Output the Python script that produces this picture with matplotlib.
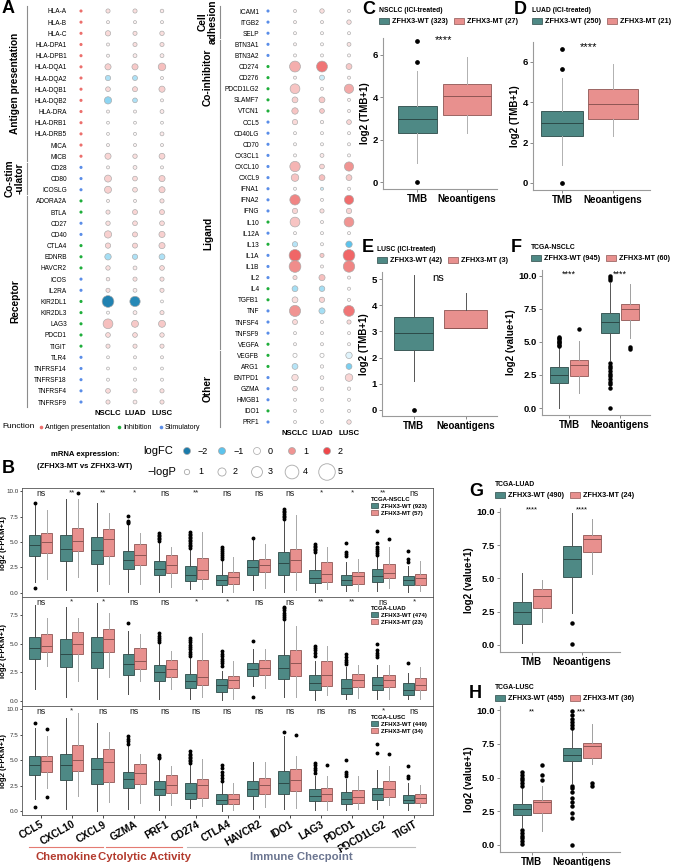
import numpy as np
import matplotlib
matplotlib.use("Agg")
import matplotlib.pyplot as plt
import matplotlib.transforms as mtransforms
from matplotlib.colors import LinearSegmentedColormap, Normalize
from matplotlib.patches import Patch
from matplotlib.lines import Line2D

plt.rcParams['font.family'] = ['Liberation Sans', 'DejaVu Sans']

# ---------------- panel A : dot plot data ----------------
left_genes = ['HLA-A', 'HLA-B', 'HLA-C', 'HLA-DPA1', 'HLA-DPB1', 'HLA-DQA1', 'HLA-DQA2',
              'HLA-DQB1', 'HLA-DQB2', 'HLA-DRA', 'HLA-DRB1', 'HLA-DRB5', 'MICA', 'MICB',
              'CD28', 'CD80', 'ICOSLG',
              'ADORA2A', 'BTLA', 'CD27', 'CD40', 'CTLA4', 'EDNRB', 'HAVCR2', 'ICOS', 'IL2RA',
              'KIR2DL1', 'KIR2DL3', 'LAG3', 'PDCD1', 'TIGIT', 'TLR4', 'TNFRSF14', 'TNFRSF18',
              'TNFRSF4', 'TNFRSF9']
left_func = list('AAAAAAAAAAAAAA' + 'SSS' + 'IISSIIISSIIIIISSSSS')
left_groups = [('Antigen presentation', 0, 13), ('Co-stim\n-ulator', 14, 16), ('Receptor', 17, 35)]

right_genes = ['ICAM1', 'ITGB2', 'SELP', 'BTN3A1', 'BTN3A2', 'CD274', 'CD276', 'PDCD1LG2',
               'SLAMF7', 'VTCN1', 'CCL5', 'CD40LG', 'CD70', 'CX3CL1', 'CXCL10', 'CXCL9',
               'IFNA1', 'IFNA2', 'IFNG', 'IL10', 'IL12A', 'IL13', 'IL1A', 'IL1B', 'IL2', 'IL4',
               'TGFB1', 'TNF', 'TNFSF4', 'TNFSF9', 'VEGFA', 'VEGFB', 'ARG1', 'ENTPD1', 'GZMA',
               'HMGB1', 'IDO1', 'PRF1']
right_func = list('SSSSS' + 'IIIII' + 'SSSSSSSSS' + 'ISISSSIISSSIIISSSIS')
right_groups = [('Cell\nadhesion', 0, 2), ('Co-inhibitor', 3, 9), ('Ligand', 10, 30), ('Other', 31, 37)]

cohorts = ['NSCLC', 'LUAD', 'LUSC']

left_fc_nsclc = [0.3, 0.1, 0.35, 0.1, 0.1, 0.45, -0.5, 0.35, -0.7, 0.1, 0.05, 0.05, 0.1, 0.4,
                 0.1, 0.45, 0.45, 0.1, 0.3, 0.3, 0.45, 0.4, -0.55, 0.3, 0.2, 0.3, -1.9, 0.05,
                 0.6, 0.35, 0.3, 0.05, 0.05, 0.05, 0.35, 0.3]
left_p_nsclc = [0.6, 0.2, 1.0, 0.2, 0.2, 1.3, 1.0, 0.8, 1.7, 0.2, 0.15, 0.15, 0.2, 1.3,
                0.2, 1.6, 1.6, 0.2, 0.6, 0.7, 1.7, 1.0, 1.4, 0.7, 0.4, 0.6, 3.3, 0.2,
                2.6, 0.8, 0.6, 0.15, 0.15, 0.2, 0.8, 0.6]
left_fc_luad = [0.3, 0.1, 0.3, 0.3, 0.2, 0.5, -0.5, 0.4, -0.5, 0.1, 0.05, 0.05, 0.1, 0.3,
                0.2, 0.35, 0.3, 0.1, 0.4, 0.35, 0.4, 0.4, -0.5, 0.2, 0.3, 0.2, -1.8, 0.2,
                0.5, 0.35, 0.3, 0.1, 0.05, 0.05, 0.3, 0.2]
left_p_luad = [0.6, 0.2, 0.6, 0.6, 0.5, 1.3, 0.9, 0.9, 0.8, 0.2, 0.15, 0.2, 0.2, 0.7,
               0.5, 0.8, 0.8, 0.2, 0.9, 0.8, 0.9, 0.9, 1.0, 0.5, 0.6, 0.5, 2.8, 0.5,
               1.6, 0.8, 0.6, 0.2, 0.15, 0.2, 0.6, 0.5]
left_fc_lusc = [0.2, 0.1, 0.3, 0.3, 0.2, 0.6, 0.1, 0.45, 0.1, 0.2, 0.05, 0.2, 0.1, 0.4,
                0.1, 0.45, 0.45, 0.3, 0.4, 0.35, 0.45, 0.45, -0.5, 0.35, 0.3, 0.3, 0.05, 0.3,
                0.5, 0.3, 0.3, 0.1, 0.05, 0.05, 0.3, 0.3]
left_p_lusc = [0.4, 0.2, 0.7, 0.6, 0.5, 1.8, 0.2, 1.3, 0.2, 0.5, 0.15, 0.5, 0.2, 1.2,
               0.2, 1.3, 1.3, 0.6, 0.9, 0.8, 1.3, 1.3, 1.2, 0.8, 0.6, 0.6, 0.15, 0.6,
               1.6, 0.7, 0.6, 0.2, 0.15, 0.2, 0.6, 0.6]

right_fc_nsclc = [0.1, 0.1, 0.05, 0.1, 0.05, 0.75, 0.1, 0.55, 0.45, 0.55, 0.35, 0.05, 0.05, 0.05,
                  0.7, 0.55, 0.05, 1.2, 0.4, 0.55, 0.05, -0.45, 1.6, 1.1, 0.35, -0.55, 0.3, 1.0,
                  0.35, 0.05, 0.05, 0.0, -0.45, 0.3, 0.3, 0.05, 0.05, 0.05]
right_p_nsclc = [0.2, 0.2, 0.2, 0.2, 0.2, 3.0, 0.2, 2.6, 1.2, 1.4, 1.0, 0.2, 0.2, 0.2,
                 2.8, 1.8, 0.2, 2.8, 1.0, 2.6, 0.2, 1.0, 3.3, 3.3, 0.6, 1.2, 1.2, 3.1,
                 0.9, 0.2, 0.2, 0.6, 1.2, 1.4, 0.8, 0.2, 0.2, 0.2]
right_fc_luad = [0.3, 0.1, 0.05, 0.05, 0.05, 1.4, -0.3, 0.1, 0.5, 0.5, 0.1, 0.05, 0.05, 0.2,
                 0.4, 0.6, -0.3, 0.05, 0.3, 0.1, 0.05, 0.05, 0.5, 0.1, 0.6, -0.55, 0.4, -0.55,
                 0.1, 0.05, 0.05, 0.0, 0.05, 0.1, 0.1, 0.05, 0.05, 0.05]
right_p_luad = [0.7, 0.2, 0.2, 0.2, 0.2, 3.0, 0.9, 0.2, 1.2, 0.8, 0.3, 0.2, 0.2, 0.5,
                0.8, 1.2, 0.2, 0.2, 0.6, 0.2, 0.2, 0.2, 0.6, 0.2, 1.3, 1.1, 1.0, 1.3,
                0.2, 0.2, 0.2, 0.6, 0.3, 0.4, 0.3, 0.2, 0.2, 0.2]
right_fc_lusc = [0.1, 0.3, 0.05, 0.25, 0.05, 0.5, 0.1, 0.8, 0.1, 0.1, 0.4, 0.05, 0.05, 0.05,
                 1.0, 0.5, 0.05, 1.5, 0.4, 1.0, 0.05, -1.0, 1.6, 1.2, 0.1, 0.05, 0.05, 1.4,
                 0.35, 0.05, 0.05, -0.2, -0.8, 0.4, 0.1, 0.05, 0.05, 0.3]
right_p_lusc = [0.2, 0.7, 0.2, 0.5, 0.2, 1.2, 0.2, 2.4, 0.2, 0.2, 0.8, 0.2, 0.2, 0.2,
                2.4, 1.2, 0.2, 2.4, 1.0, 2.6, 0.2, 1.4, 3.3, 3.2, 0.2, 0.2, 0.2, 3.0,
                0.6, 0.2, 0.2, 1.4, 1.2, 1.8, 0.3, 0.2, 0.2, 0.7]

legend_fc = [-2, -1, 0, 1, 2]
legend_p = [1, 2, 3, 4, 5]

# ---------------- panel B : mRNA expression boxplots ----------------
b_genes = ['CCL5', 'CXCL10', 'CXCL9', 'GZMA', 'PRF1', 'CD274', 'CTLA4', 'HAVCR2', 'IDO1',
           'LAG3', 'PDCD1', 'PDCD1LG2', 'TIGIT']
# (whislo, q1, median, q3, whishi)
nsclc_wt = [(1.1, 3.64, 4.66, 5.67, 8.6), (0.26, 3.15, 4.36, 5.67, 9.2), (0.16, 2.82, 4.2, 5.5, 8.8),
            (0.1, 2.39, 3.21, 4.1, 6.7), (0.1, 1.74, 2.39, 3.15, 5.0), (0.36, 1.15, 1.8, 2.66, 4.3),
            (0.1, 0.82, 1.25, 1.8, 3.2), (0.26, 1.8, 2.56, 3.21, 5.2), (0.1, 1.8, 2.89, 4.03, 7.1),
            (0.1, 1.02, 1.51, 2.23, 3.9), (0.17, 0.73, 1.22, 1.8, 3.0), (0.17, 1.09, 1.65, 2.31, 3.5),
            (0.1, 0.73, 1.22, 1.65, 2.6)]
nsclc_wt_out = [[8.85, 0.45], [], [], [6.9, 7.0, 7.1, 7.54], [5.1, 5.25, 5.4, 5.55, 5.7, 5.85],
                [4.45, 4.6, 4.75, 4.9, 5.05, 5.2, 5.35, 5.5, 5.65, 5.8, 5.95],
                [3.35, 3.5, 3.7, 3.9, 4.1, 4.3, 4.5], [5.35],
                [7.3, 7.45, 7.6, 7.75, 7.9, 8.05, 8.2], [4.05, 4.2, 4.35, 4.5, 4.65, 4.8],
                [3.6, 3.8, 4.0, 4.95], [3.7, 3.9, 4.1, 4.3, 4.5, 4.95, 6.1], [3.0, 3.3, 4.1]]
nsclc_mt = [(1.4, 3.93, 4.98, 5.84, 8.1), (1.57, 4.1, 5.08, 6.33, 9.2), (0.92, 3.6, 5.25, 6.23, 7.87),
            (0.85, 2.72, 3.7, 4.79, 5.84), (0.59, 1.97, 2.72, 3.7, 4.52), (0.43, 1.41, 2.23, 3.38, 6.0),
            (0.1, 0.92, 1.57, 2.07, 3.54), (0.52, 2.07, 2.72, 3.3, 4.85), (0.33, 2.07, 3.21, 4.36, 7.64),
            (0.43, 1.08, 1.9, 3.05, 4.52), (0.2, 0.83, 1.65, 2.08, 3.3), (0.5, 1.49, 1.98, 2.8, 4.5),
            (0.2, 0.73, 1.42, 1.88, 3.1)]
nsclc_mt_out = [[], [9.77], [], [], [], [], [], [], [], [], [], [5.3], []]

luad_wt = [(1.06, 3.64, 4.64, 5.56, 8.37), (0.34, 2.92, 4.07, 5.44, 8.2), (0.2, 2.84, 4.3, 5.56, 8.5),
           (0.63, 2.29, 3.21, 4.13, 6.07), (0.14, 1.78, 2.49, 3.15, 4.93), (0.2, 1.12, 1.72, 2.35, 3.78),
           (0.06, 0.83, 1.4, 1.92, 2.64), (1.35, 2.15, 2.78, 3.35, 4.5), (0.34, 1.92, 2.84, 3.98, 6.93),
           (0.1, 0.92, 1.58, 2.26, 3.5), (0.15, 0.6, 1.1, 1.9, 3.0), (0.15, 0.95, 1.4, 2.1, 3.1),
           (0.15, 0.55, 1.0, 1.6, 2.4)]
luad_wt_out = [[], [], [], [6.8], [5.1, 5.3, 5.5, 5.7, 5.9],
               [3.95, 4.1, 4.3, 4.5, 4.7, 4.9, 5.1, 5.3, 5.5],
               [3.07, 3.3, 3.5, 3.7, 3.9, 4.1, 4.36], [5.2, 0.34],
               [7.1, 7.3, 7.5, 7.7, 7.9, 8.05, 8.22], [3.9, 4.2, 4.4, 4.6, 4.8],
               [3.2, 3.4, 3.6, 3.8, 4.1], [3.8, 4.0, 4.2, 4.4, 5.0], [3.3]]
luad_mt = [(3.07, 4.27, 4.79, 5.85, 7.22), (1.78, 4.07, 4.99, 6.02, 7.22), (2.06, 4.27, 5.36, 6.28, 7.65),
           (1.78, 2.78, 3.5, 4.58, 5.79), (1.06, 2.06, 2.78, 3.55, 4.36), (0.34, 1.4, 2.06, 3.55, 5.93),
           (0.2, 1.12, 1.86, 2.21, 3.5), (1.12, 2.26, 2.84, 3.58, 4.56), (0.34, 2.15, 3.35, 4.41, 6.56),
           (0.49, 1.3, 2.3, 3.5, 4.8), (0.3, 1.2, 1.8, 2.35, 3.1), (0.2, 1.25, 1.8, 2.25, 3.1),
           (0.2, 0.95, 1.4, 2.0, 3.0)]
luad_mt_out = [[] for _ in b_genes]

lusc_wt = [(1.19, 3.55, 4.58, 5.45, 8.13), (0.23, 3.06, 4.52, 5.65, 9.1), (0.06, 2.65, 4.1, 5.23, 8.6),
           (0.23, 2.32, 3.13, 3.87, 6.35), (0.13, 1.58, 2.23, 2.97, 5.0), (0.29, 1.19, 1.84, 2.81, 4.6),
           (0.06, 0.71, 1.13, 1.74, 2.81), (0.23, 1.52, 2.23, 2.97, 4.8), (0.23, 1.68, 2.81, 3.94, 7.32),
           (0.16, 1.03, 1.52, 2.16, 3.45), (0.1, 0.7, 1.25, 1.9, 3.2), (0.2, 1.15, 1.75, 2.3, 4.0),
           (0.1, 0.8, 1.15, 1.65, 2.8)]
lusc_wt_out = [[8.68, 0.39], [], [], [6.6, 6.9, 7.1, 7.4], [5.2, 5.35, 5.55],
               [4.75, 4.9, 5.05, 5.2, 5.35, 5.5, 5.65, 5.87], [3.0, 3.3, 3.6, 3.9, 4.2, 4.58], [],
               [7.8], [3.77, 4.0, 4.25, 4.5, 4.74], [3.5, 3.7, 3.9, 5.0], [5.7, 6.6], [3.3, 3.5, 4.4]]
lusc_mt = [(2.32, 3.84, 4.9, 5.45, 7.32), (1.52, 3.94, 5.06, 6.45, 9.6), (0.94, 2.9, 4.84, 6.1, 7.74),
           (0.87, 2.71, 3.71, 4.65, 5.65), (0.61, 1.77, 2.55, 3.55, 4.42), (0.55, 1.29, 2.55, 3.13, 5.16),
           (0.13, 0.71, 1.26, 1.74, 2.81), (0.39, 1.68, 2.58, 3.23, 4.8), (0.29, 2.0, 3.03, 4.16, 5.39),
           (0.16, 1.03, 1.74, 2.26, 3.45), (0.2, 0.85, 1.45, 2.05, 3.5), (0.6, 1.45, 2.15, 3.0, 4.4),
           (0.4, 0.85, 1.35, 1.7, 2.6)]
lusc_mt_out = [[8.06, 1.42], [], [], [], [], [], [], [], [7.48], [4.55], [], [5.6], []]

nsclc_sig = ['ns', '**', '**', '*', 'ns', '**', 'ns', 'ns', 'ns', '*', '*', '**', 'ns']
luad_sig = ['ns', '*', '*', 'ns', 'ns', '*', '*', 'ns', 'ns', '**', '**', 'ns', '*']
lusc_sig = ['ns', '*', 'ns', 'ns', 'ns', 'ns', 'ns', 'ns', 'ns', 'ns', 'ns', '*', 'ns']

# ---------------- panels C-H ----------------
cats = ['TMB', 'Neoantigens']
c_wt = (0.9, 2.3, 2.97, 3.57, 5.25); c_wt_out = [5.65, 6.65, 0.0]
c_mt = (2.3, 3.15, 4.05, 4.65, 5.9); c_mt_out = []
d_wt = (0.9, 2.3, 2.95, 3.55, 5.2); d_wt_out = [5.65, 6.65, 0.0]
d_mt = (2.3, 3.15, 3.9, 4.65, 5.9); d_mt_out = []
e_wt = (1.1, 2.3, 2.93, 3.55, 5.15); e_wt_out = [0.0]
e_mt = (3.15, 3.15, 3.15, 3.8, 4.45); e_mt_out = []

f_wt = [(0.0, 1.9, 2.5, 3.1, 4.6), (3.6, 5.7, 6.55, 7.2, 9.5)]
f_wt_out = [[4.7, 4.8, 4.9, 5.0, 5.1, 5.2, 5.3, 5.4],
            [9.7, 9.85, 10.0, 3.4, 3.2, 3.0, 2.8, 2.6, 2.4, 2.2, 2.0, 1.8, 1.5, 0.0]]
f_mt = [(1.1, 2.4, 3.25, 3.6, 5.05), (5.3, 6.65, 7.5, 7.9, 9.4)]
f_mt_out = [[5.95], [4.5, 4.6]]
g_wt = [(0.15, 1.6, 2.5, 3.2, 5.4), (2.4, 5.1, 6.45, 7.45, 9.9)]
g_wt_out = [[], [1.65, 0.05]]
g_mt = [(1.7, 2.8, 3.7, 4.2, 4.9), (5.3, 7.0, 7.95, 8.3, 9.5)]
g_mt_out = [[], []]
h_wt = [(1.3, 2.25, 2.65, 3.05, 4.2), (4.6, 6.2, 6.7, 7.2, 8.5)]
h_wt_out = [[4.4, 4.6, 4.8, 5.0, 5.2, 5.4, 1.1, 0.9, 0.7, 0.5, 0.3, 0.1],
            [8.7, 8.9, 9.1, 9.3, 9.6, 9.9, 4.4, 4.2, 3.9, 3.5, 3.2, 2.9, 2.4, 2.0, 0.0]]
h_mt = [(1.05, 2.4, 3.15, 3.35, 4.4), (6.0, 6.45, 7.35, 7.55, 8.95)]
h_mt_out = [[4.85, 5.15, 5.9], [4.6, 4.4]]

# ---------------- styling ----------------
W, H = 673, 866
teal, teal_edge = '#4e8985', '#2c4a48'
pink, pink_edge = '#e8908e', '#8e5654'
func_colors = {'A': '#ec6f6c', 'I': '#1fae3b', 'S': '#5a8de8'}
cmap_fc = LinearSegmentedColormap.from_list(
    'fc', [(0, '#1b7bab'), (0.25, '#5bc3ec'), (0.5, '#ffffff'), (0.75, '#f09593'), (1, '#f0474a')])
norm_fc = Normalize(-2, 2)

fig = plt.figure(figsize=(W / 100, H / 100), dpi=100)


def rect(x0, y0, x1, y1):
    return [x0 / W, 1 - y1 / H, (x1 - x0) / W, (y1 - y0) / H]


def ftext(x, y, s, **kw):
    fig.text(x / W, 1 - y / H, s, **kw)


def dot_size(p):
    d = (2.5 + 2.8 * np.asarray(p)) * 0.72
    return d ** 2


def dot_panel(ax, genes, funcs, fcs, ps, groups, xline, xlab):
    n = len(genes)
    y = np.arange(n)
    ax.scatter(np.full(n, -1), y, c=[func_colors[f] for f in funcs], s=5, linewidths=0)
    for j, (fc, p) in enumerate(zip(fcs, ps)):
        ax.scatter(np.full(n, j), y, c=fc, cmap=cmap_fc, norm=norm_fc, s=dot_size(p),
                   edgecolors='#a9a9a9', linewidths=0.45, zorder=3)
    ax.set_yticks(y)
    ax.set_yticklabels(genes, fontsize=4.7)
    ax.set_ylim(n - 0.5, -0.5)
    ax.set_xticks([0, 1, 2])
    ax.set_xticklabels(cohorts, fontsize=5.6, fontweight='bold')
    ax.tick_params(length=0, pad=1.5)
    for s in ax.spines.values():
        s.set_visible(False)
    tr = mtransforms.blended_transform_factory(fig.transFigure, ax.transData)
    for name, a, b in groups:
        ax.plot([xline / W] * 2, [a - 0.42, b + 0.42], color='#8c8c8c', lw=0.8,
                transform=tr, clip_on=False)
        ax.text(xlab / W, (a + b) / 2, name, transform=tr, rotation=90, ha='center',
                va='center', fontsize=7.3, fontweight='bold', linespacing=1.0)


axA1 = fig.add_axes(rect(68.85, 5.4, 175.5, 407.6))
axA1.set_xlim(-1.45, 2.5)
dot_panel(axA1, left_genes, left_func, [left_fc_nsclc, left_fc_luad, left_fc_lusc],
          [left_p_nsclc, left_p_luad, left_p_lusc], left_groups, 27, 15)

axA2 = fig.add_axes(rect(261.25, 5.45, 362.5, 427.55))
axA2.set_xlim(-1.25, 2.5)
dot_panel(axA2, right_genes, right_func, [right_fc_nsclc, right_fc_luad, right_fc_lusc],
          [right_p_nsclc, right_p_luad, right_p_lusc], right_groups, 220, 208)

ftext(2, 13, 'A', fontsize=13, fontweight='bold')

# function legend
ftext(2, 427, 'Function', fontsize=6, va='center')
fh = [Line2D([], [], ls='', marker='o', markersize=2.6, color=func_colors[k], markeredgewidth=0)
      for k in 'AIS']
fig.legend(fh, ['Antigen presentation', 'Inhibition', 'Stimulatory'], loc='center left',
           bbox_to_anchor=(38 / W, 1 - 427.5 / H), ncol=3, frameon=False, fontsize=5,
           handlelength=0.8, handletextpad=0.2, columnspacing=0.9, borderpad=0, borderaxespad=0)

# logFC / -logP legend
axK = fig.add_axes(rect(140, 440, 362, 484))
axK.set_xlim(140, 362)
axK.set_ylim(484, 440)
axK.axis('off')
kx = 187 + 35 * np.arange(len(legend_fc))
axK.scatter(kx, np.full(len(kx), 451), c=legend_fc, cmap=cmap_fc, norm=norm_fc, s=(7 * 0.72) ** 2,
            edgecolors='#a9a9a9', linewidths=0.5)
axK.scatter(kx, np.full(len(kx), 472), c='white', s=dot_size(legend_p),
            edgecolors='#a9a9a9', linewidths=0.6)
for x, v in zip(kx, legend_fc):
    axK.text(x + 11, 451, ('−%d' % -v) if v < 0 else str(v), fontsize=6.5, va='center')
for x, v in zip(kx, legend_p):
    axK.text(x + 11, 472, str(v), fontsize=6.5, va='center')
axK.text(143, 451, 'logFC', fontsize=8, va='center')
axK.text(147, 472, '−logP', fontsize=8, va='center')

ftext(85, 455, 'mRNA expression:', fontsize=5.6, fontweight='bold', ha='center', va='center')
ftext(85, 467, '(ZFHX3-MT vs ZFHX3-WT)', fontsize=5.6, fontweight='bold', ha='center', va='center')
ftext(2, 473, 'B', fontsize=13, fontweight='bold')


def draw_boxes(ax, rows, outs, pos, width, face, edge, whisk, ms=1.8):
    st = [dict(whislo=r[0], q1=r[1], med=r[2], q3=r[3], whishi=r[4], fliers=o)
          for r, o in zip(rows, outs)]
    ax.bxp(st, positions=pos, widths=width, patch_artist=True, showcaps=False,
           manage_ticks=False,
           boxprops=dict(facecolor=face, edgecolor=edge, linewidth=0.6),
           medianprops=dict(color=edge, linewidth=0.7),
           whiskerprops=dict(color=whisk, linewidth=0.7),
           flierprops=dict(marker='o', markerfacecolor='black', markeredgecolor='black',
                           markersize=ms, linestyle='none'))


b_sets = [(nsclc_wt, nsclc_wt_out, nsclc_mt, nsclc_mt_out, nsclc_sig, 'TCGA-NSCLC', 923, 57),
          (luad_wt, luad_wt_out, luad_mt, luad_mt_out, luad_sig, 'TCGA-LUAD', 474, 23),
          (lusc_wt, lusc_wt_out, lusc_mt, lusc_mt_out, lusc_sig, 'TCGA-LUSC', 449, 34)]
b_tops = [488, 597, 706]
b_ylims = [(-0.4, 10.3), (-0.43, 9.05), (-0.35, 10.3)]
xi = np.arange(len(b_genes))
for k, (wt, wto, mt, mto, sig, title, nw, nm) in enumerate(b_sets):
    ax = fig.add_axes(rect(22, b_tops[k], 433, b_tops[k] + 109))
    draw_boxes(ax, wt, wto, xi - 0.19, 0.36, teal, teal_edge, '#4a4a4a')
    draw_boxes(ax, mt, mto, xi + 0.19, 0.36, pink, pink_edge, '#a8a8a8')
    ax.set_xlim(-0.6, 12.6)
    ax.set_ylim(*b_ylims[k])
    yt = [0, 2.5, 5, 7.5, 10] if b_ylims[k][1] > 10 else [0, 2.5, 5, 7.5]
    ax.set_yticks(yt)
    ax.set_yticklabels(['%.1f' % v for v in yt], fontsize=4.5, color='#333333')
    ax.tick_params(axis='y', length=1.5, width=0.5, pad=0.8)
    for s in ax.spines.values():
        s.set_color('#555555')
        s.set_linewidth(0.6)
    ax.set_ylabel('log2 (FPKM+1)', fontsize=5.6, fontweight='bold')
    ax.yaxis.set_label_coords(-15 / 411, 0.5)
    for i, s in enumerate(sig):
        ax.text(i, b_ylims[k][1] - 0.1, s, ha='center', va='top',
                fontsize=6.3 if s == 'ns' else 5.8, color='#222222')
    ax.legend([Patch(facecolor=teal, edgecolor=teal_edge, lw=0.5),
               Patch(facecolor=pink, edgecolor=pink_edge, lw=0.5)],
              ['ZFHX3-WT (%d)' % nw, 'ZFHX3-MT (%d)' % nm], title=title,
              loc='upper left', bbox_to_anchor=(371 / W, 1 - (b_tops[k] + 9) / H),
              bbox_transform=fig.transFigure, frameon=False, alignment='left',
              prop={'size': 4.3, 'weight': 'bold'},
              title_fontproperties={'size': 4.3, 'weight': 'bold'},
              handlelength=1.2, handleheight=0.8, handletextpad=0.4, labelspacing=0.25,
              borderpad=0, borderaxespad=0)
    if k < 2:
        ax.set_xticks([])
    else:
        ax.set_xticks(xi)
        ax.set_xticklabels(b_genes, rotation=30, ha='right', rotation_mode='anchor',
                           fontsize=7.3, fontweight='bold')
        ax.tick_params(axis='x', length=2, width=0.5, pad=1)

# category brackets under panel B
for name, x0, x1, lc, tc in [('Chemokine', 29, 103, '#e47b72', '#b33a2d'),
                             ('Cytolytic Activity', 106, 182, '#e47b72', '#b33a2d'),
                             ('Immune Checpoint', 187, 415, '#bdbdbd', '#6b7590')]:
    fig.add_artist(Line2D([x0 / W, x1 / W], [1 - 847 / H] * 2, color=lc, lw=0.8))
    ftext((x0 + x1) / 2, 857, name, fontsize=8.2, fontweight='bold', color=tc,
          ha='center', va='center')


def small_panel(box, xlim, ylim, yticks, fmt, ylabel, letter, lpos, tpos, title, nwt, nmt):
    ax = fig.add_axes(rect(*box))
    ax.set_xlim(*xlim)
    ax.set_ylim(*ylim)
    ax.set_yticks(yticks)
    ax.set_yticklabels([fmt % v for v in yticks], fontsize=6.8, fontweight='bold')
    ax.set_xticks([0, 1])
    ax.set_xticklabels(cats, fontsize=7, fontweight='bold')
    ax.tick_params(length=2, width=0.6, pad=1.5, color='#777777')
    for s in ['top', 'right']:
        ax.spines[s].set_visible(False)
    for s in ['left', 'bottom']:
        ax.spines[s].set_color('#9a9a9a')
        ax.spines[s].set_linewidth(0.8)
    ax.set_ylabel(ylabel, fontsize=7, fontweight='bold', labelpad=2)
    ftext(lpos[0], lpos[1], letter, fontsize=13, fontweight='bold', va='center')
    ax.legend([Patch(facecolor=teal, edgecolor=teal_edge, lw=0.5),
               Patch(facecolor=pink, edgecolor=pink_edge, lw=0.5)],
              ['ZFHX3-WT (%d)' % nwt, 'ZFHX3-MT (%d)' % nmt], title=title, ncol=2,
              loc='upper left', bbox_to_anchor=(tpos[0] / W, 1 - tpos[1] / H),
              bbox_transform=fig.transFigure, frameon=False, alignment='left',
              prop={'size': 5.2, 'weight': 'bold'},
              title_fontproperties={'size': 4.9, 'weight': 'bold'},
              handlelength=1.4, handleheight=0.9, handletextpad=0.4, columnspacing=0.8,
              borderpad=0, borderaxespad=0)
    return ax


axC = small_panel((383, 38, 497, 189), (-0.68, 1.6), (-0.33, 6.8), [0, 2, 4, 6], '%d',
                  'log2 (TMB+1)', 'C', (362, 10), (379, 7), 'NSCLC (ICI-treated)', 323, 27)
draw_boxes(axC, [c_wt], [c_wt_out], [0], 0.78, teal, teal_edge, '#b0b0b0', ms=2.4)
draw_boxes(axC, [c_mt], [c_mt_out], [1], 0.95, pink, pink_edge, '#b0b0b0', ms=2.4)
axC.text(0.54, 6.72, '****', ha='center', va='center', fontsize=8)

axD = small_panel((533, 42, 650, 190), (-0.57, 1.73), (-0.35, 6.98), [0, 2, 4, 6], '%d',
                  'log2 (TMB+1)', 'D', (514, 10), (532, 7), 'LUAD (ICI-treated)', 250, 21)
draw_boxes(axD, [d_wt], [d_wt_out], [0], 0.82, teal, teal_edge, '#b0b0b0', ms=2.4)
draw_boxes(axD, [d_mt], [d_mt_out], [1], 0.98, pink, pink_edge, '#b0b0b0', ms=2.4)
axD.text(0.53, 6.75, '****', ha='center', va='center', fontsize=8)

axE = small_panel((382, 272, 497, 416), (-0.61, 1.6), (-0.23, 5.27), [0, 1, 2, 3, 4, 5], '%d',
                  'log2 (TMB+1)', 'E', (362, 248), (377, 246), 'LUSC (ICI-treated)', 42, 3)
draw_boxes(axE, [e_wt], [e_wt_out], [0], 0.74, teal, teal_edge, '#555555', ms=2.4)
draw_boxes(axE, [e_mt], [e_mt_out], [1], 0.82, pink, pink_edge, '#555555', ms=2.4)
axE.text(0.46, 5.05, 'ns', ha='center', va='center', fontsize=8)

for box, xl, yl, letter, lpos, tpos, title, nw, nm, wt, wto, mt, mto, sig, sy, sf in [
        ((542, 270, 650, 415), (-0.53, 1.59), (-0.53, 10.45), 'F', (511, 248), (531, 244),
         'TCGA-NSCLC', 945, 60, f_wt, f_wt_out, f_mt, f_mt_out, ['****', '****'], 10.15, 6.5),
        ((500, 508, 620, 652), (-0.63, 1.77), (-0.53, 10.3), 'G', (469, 491), (495, 481),
         'TCGA-LUAD', 490, 24, g_wt, g_wt_out, g_mt, g_mt_out, ['****', '****'], 10.15, 5.5),
        ((500, 706, 620, 852), (-0.63, 1.77), (-0.52, 10.3), 'H', (469, 694), (495, 684),
         'TCGA-LUSC', 455, 36, h_wt, h_wt_out, h_mt, h_mt_out, ['**', '***'], 9.9, 5.5)]:
    ax = small_panel(box, xl, yl, [0, 2.5, 5, 7.5, 10], '%.1f', 'log2 (value+1)', letter, lpos,
                     tpos, title, nw, nm)
    draw_boxes(ax, wt, wto, [-0.2, 0.8], 0.36, teal, teal_edge, '#555555', ms=2.2)
    draw_boxes(ax, mt, mto, [0.2, 1.2], 0.36, pink, pink_edge, '#a0a0a0', ms=2.2)
    for i, s in enumerate(sig):
        ax.text(i, sy, s, ha='center', va='center', fontsize=sf)

fig.savefig('out.png', dpi=100)
